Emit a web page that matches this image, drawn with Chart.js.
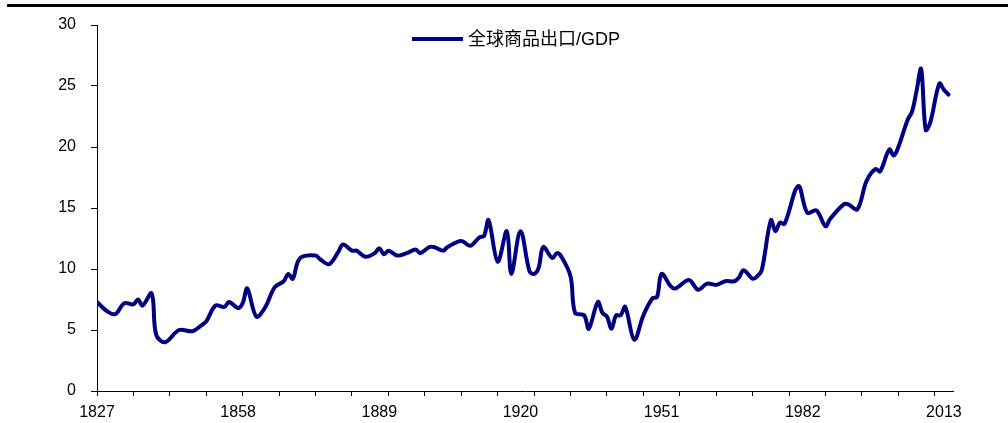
<!DOCTYPE html>
<html>
<head>
<meta charset="utf-8">
<script src="https://cdn.jsdelivr.net/npm/chart.js@4/dist/chart.umd.min.js"></script>
<style>
    body { margin: 0; background: #fff; }
    #wrap { position: relative; width: 1008px; height: 423px; }
    #topRule { position: absolute; left: 7px; top: 4px; width: 1001px; height: 3px; background: #000; }
    canvas { position: absolute; left: 0; top: 0; }
</style>
</head>
<body>
<div id="wrap">
    <canvas id="tradeChart" width="1008" height="423"></canvas>
    <div id="topRule"></div>
</div>
<script>
// Series data
const seriesLabel = "全球商品出口/GDP";
const years = [
    1827, 1829, 1831, 1833, 1835, 1836, 1837, 1839, 1840, 1842, 1845, 1848, 1850, 1851,
    1853, 1855, 1856, 1858, 1859, 1860, 1862, 1864, 1866, 1868, 1869, 1870, 1871, 1872,
    1875, 1876, 1878, 1880, 1881, 1883, 1884, 1886, 1888, 1889, 1890, 1891, 1893, 1895,
    1897, 1898, 1900, 1901, 1903, 1904, 1907, 1909, 1911, 1912, 1913, 1915, 1917, 1918,
    1920, 1922, 1923, 1924, 1925, 1927, 1928, 1929, 1931, 1932, 1934, 1935, 1937, 1938,
    1939, 1940, 1941, 1942, 1943, 1945, 1947, 1949, 1950, 1951, 1953, 1954, 1957, 1959,
    1961, 1963, 1965, 1967, 1968, 1969, 1971, 1972, 1973, 1975, 1976, 1977, 1978, 1981,
    1983, 1985, 1987, 1988, 1991, 1992, 1994, 1996, 1998, 1999, 2001, 2002, 2003, 2005,
    2006, 2007, 2008, 2009, 2010, 2012, 2013, 2014
];
const exportShare = [
    7.3, 6.6, 6.3, 7.2, 7.1, 7.5, 7.0, 8.0, 4.6, 4.0, 5.0, 4.9, 5.4, 5.7,
    7.0, 6.9, 7.3, 6.8, 7.2, 8.4, 6.1, 6.9, 8.5, 9.0, 9.6, 9.2, 10.5, 11.0,
    11.1, 10.8, 10.4, 11.4, 12.0, 11.5, 11.5, 11.0, 11.3, 11.7, 11.2, 11.5, 11.1, 11.3,
    11.6, 11.3, 11.8, 11.8, 11.5, 11.8, 12.3, 11.9, 12.6, 12.7, 14.0, 10.6, 13.1, 9.6,
    13.1, 9.8, 9.6, 10.1, 11.8, 10.9, 11.3, 11.0, 9.4, 6.4, 6.2, 5.1, 7.3, 6.4,
    6.1, 5.1, 6.2, 6.2, 6.9, 4.2, 6.2, 7.6, 7.7, 9.6, 8.6, 8.4, 9.1, 8.3,
    8.8, 8.7, 9.0, 9.0, 9.3, 9.9, 9.2, 9.4, 9.9, 14.0, 13.1, 13.8, 13.7, 16.8,
    14.6, 14.8, 13.5, 14.1, 15.3, 15.3, 14.9, 17.2, 18.2, 18.0, 19.8, 19.3, 20.0, 22.2,
    22.9, 24.6, 26.4, 21.4, 22.0, 25.2, 24.7, 24.3
];

// Axis settings
const xStart = 1827;
const xEnd = 2015;
const tickEvery = 8;
const labelYears = [1827, 1858, 1889, 1920, 1951, 1982, 2013];
const yTicks = [0, 5, 10, 15, 20, 25, 30];

const lineColor = "#000080";
const fontFamily = '"Liberation Sans", Arial, "Noto Sans CJK SC", sans-serif';

// Legend drawn inside the plot, like the original
const insideLegend = {
    id: "insideLegend",
    afterDraw(chart) {
        const ctx = chart.ctx;
        const ds = chart.data.datasets[0];
        ctx.save();
        ctx.strokeStyle = ds.borderColor;
        ctx.lineWidth = 4;
        ctx.beginPath();
        ctx.moveTo(412, 39);
        ctx.lineTo(463, 39);
        ctx.stroke();
        ctx.fillStyle = "#000";
        ctx.font = '18px ' + fontFamily;
        ctx.textBaseline = "middle";
        ctx.fillText(ds.label, 468, 40);
        ctx.restore();
    }
};

const points = years.map((yr, i) => ({ x: yr, y: exportShare[i] }));

new Chart(document.getElementById("tradeChart"), {
    type: "line",
    data: {
        datasets: [{
            label: seriesLabel,
            data: points,
            borderColor: lineColor,
            backgroundColor: lineColor,
            borderWidth: 4,
            pointRadius: 0,
            tension: 0.35,
            borderCapStyle: "round",
            borderJoinStyle: "round"
        }]
    },
    options: {
        responsive: false,
        animation: false,
        layout: { padding: { top: 25, right: 55, bottom: 0, left: 0 } },
        plugins: {
            legend: { display: false },
            tooltip: { enabled: false }
        },
        scales: {
            x: {
                type: "linear",
                min: xStart,
                max: xEnd,
                afterBuildTicks: (scale) => {
                    const vals = new Set(labelYears);
                    for (let v = xStart; v <= xEnd; v += tickEvery) vals.add(v);
                    scale.ticks = [...vals].sort((a, b) => a - b).map(v => ({ value: v }));
                },
                afterFit: (scale) => { scale.height = 32; },
                ticks: {
                    autoSkip: false,
                    maxRotation: 0,
                    padding: 7,
                    color: "#000",
                    font: { family: fontFamily, size: 16 },
                    callback: (value) => labelYears.includes(value) ? String(value) : ""
                },
                grid: {
                    drawOnChartArea: false,
                    tickLength: 5,
                    tickColor: (c) => (c.tick && (c.tick.value - xStart) % tickEvery === 0) ? "#000" : "rgba(0,0,0,0)"
                },
                border: { color: "#000", width: 1 }
            },
            y: {
                min: 0,
                max: 30,
                afterBuildTicks: (scale) => { scale.ticks = yTicks.map(v => ({ value: v })); },
                afterFit: (scale) => { scale.width = 97; },
                ticks: {
                    padding: 15,
                    color: "#000",
                    font: { family: fontFamily, size: 16 }
                },
                grid: {
                    drawOnChartArea: false,
                    tickLength: 6,
                    tickColor: "#000"
                },
                border: { color: "#000", width: 1 }
            }
        }
    },
    plugins: [insideLegend]
});
</script>
</body>
</html>
